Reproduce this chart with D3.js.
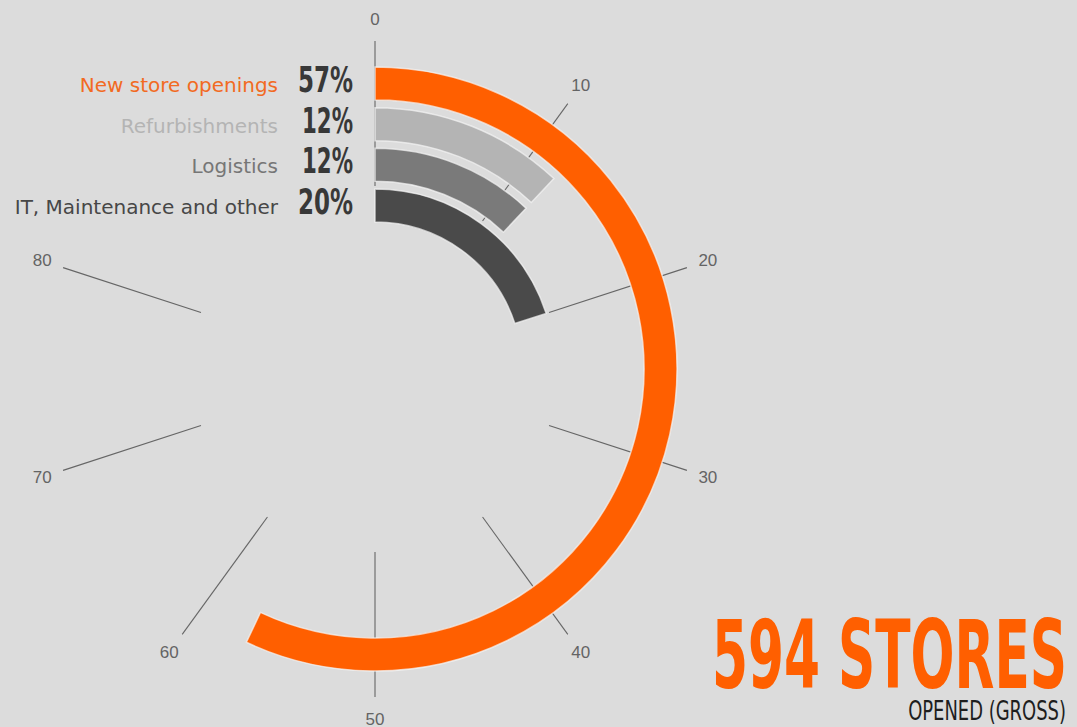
<!DOCTYPE html>
<html>
<head>
<meta charset="utf-8">
<script src="https://cdn.jsdelivr.net/npm/d3@7"></script>
<style>
  html, body { margin: 0; padding: 0; background: #dcdcdc; overflow: hidden; }
  svg { display: block; }
</style>
</head>
<body>
<svg id="chart" width="1077" height="727"></svg>
<script>
// Share of store capex by category (percent of total)
const categories = ["New store openings", "Refurbishments", "Logistics", "IT, Maintenance and other"];
const values = [57, 12, 12, 20];
const percentLabels = ["57%", "12%", "12%", "20%"];
const barColors = ["#ff5f00", "#b4b4b4", "#7a7a7a", "#4a4a4a"];
const labelColors = ["#f26a22", "#b4b4b4", "#767676", "#474747"];
const tickValues = [0, 10, 20, 30, 40, 50, 60, 70, 80];
const headline = "594 STORES";
const subline = "OPENED (GROSS)";

const W = 1077, H = 727;
const cx = 375, cy = 369;

const svg = d3.select("#chart");
svg.append("rect").attr("width", W).attr("height", H).attr("fill", "#dcdcdc");

const g = svg.append("g").attr("transform", `translate(${cx},${cy})`);

// angular scale: 0..100 percent around the full circle, starting at 12 o'clock
const angle = d3.scaleLinear().domain([0, 100]).range([0, 2 * Math.PI]);

// radial bands, first category outermost
const radius = d3.scaleBand()
  .domain(categories)
  .range([302, 147])
  .paddingInner(0.19)
  .paddingOuter(0);
const bw = radius.bandwidth();

// radial tick lines and labels
const tickInner = 183, tickOuter = 328, labelR = 350;
const ticks = g.append("g").attr("class", "ticks");
ticks.selectAll("line")
  .data(tickValues)
  .join("line")
  .attr("x1", d => tickInner * Math.sin(angle(d)))
  .attr("y1", d => -tickInner * Math.cos(angle(d)))
  .attr("x2", d => tickOuter * Math.sin(angle(d)))
  .attr("y2", d => -tickOuter * Math.cos(angle(d)))
  .attr("stroke", "#666666")
  .attr("stroke-width", 1.1);
ticks.selectAll("text")
  .data(tickValues)
  .join("text")
  .attr("x", d => labelR * Math.sin(angle(d)))
  .attr("y", d => -labelR * Math.cos(angle(d)))
  .attr("text-anchor", "middle")
  .attr("dominant-baseline", "central")
  .attr("font-family", "Liberation Sans, Arial, sans-serif")
  .attr("font-size", 17)
  .attr("fill", "#646464")
  .text(d => d);

// radial bars
const arc = d3.arc()
  .innerRadius(d => radius(d.cat))
  .outerRadius(d => radius(d.cat) + bw)
  .startAngle(0)
  .endAngle(d => angle(d.value));

const rows = categories.map((c, i) => ({ cat: c, value: values[i], i }));

g.append("g").selectAll("path")
  .data(rows)
  .join("path")
  .attr("d", arc)
  .attr("fill", d => barColors[d.i])
  .attr("stroke", "rgba(245,245,245,0.7)")
  .attr("stroke-width", 1.5);

// legend: category name + percent, aligned to each bar
const baselineY = d => -(radius(d.cat) + bw / 2) + 8.5;
const legend = g.append("g");
legend.selectAll("text.cat")
  .data(rows)
  .join("text")
  .attr("class", "cat")
  .attr("x", 278 - cx)
  .attr("y", baselineY)
  .attr("text-anchor", "end")
  .attr("font-family", "DejaVu Sans, sans-serif")
  .attr("font-size", 20)
  .attr("fill", d => labelColors[d.i])
  .text(d => d.cat);

legend.selectAll("text.pct")
  .data(rows)
  .join("text")
  .attr("class", "pct")
  .attr("x", 353 - cx)
  .attr("y", baselineY)
  .attr("text-anchor", "end")
  .attr("font-family", "DejaVu Sans Condensed, DejaVu Sans, sans-serif")
  .attr("font-weight", "bold")
  .attr("font-size", 35)
  .attr("textLength", d => d.value === 57 || d.value === 20 ? 55 : 51)
  .attr("lengthAdjust", "spacingAndGlyphs")
  .attr("fill", "#383838")
  .text(d => percentLabels[d.i]);

// headline figures: narrow the text horizontally to a fixed width
function condensed(text, x, y, size, width, opts) {
  const grp = svg.append("g");
  const t = grp.append("text")
    .attr("text-anchor", "end")
    .attr("font-family", "DejaVu Sans Condensed, DejaVu Sans, sans-serif")
    .attr("font-weight", opts.weight)
    .attr("font-size", size)
    .attr("fill", opts.fill)
    .text(text);
  const natural = t.node().getComputedTextLength();
  grp.attr("transform", `translate(${x},${y}) scale(${width / natural},1)`);
  return grp;
}

condensed(headline, 1067, 688, 94, 355, { weight: "bold", fill: "#ff5f00" });
condensed(subline, 1066, 720, 26, 158, { weight: "normal", fill: "#1e1e1e" });
</script>
</body>
</html>
